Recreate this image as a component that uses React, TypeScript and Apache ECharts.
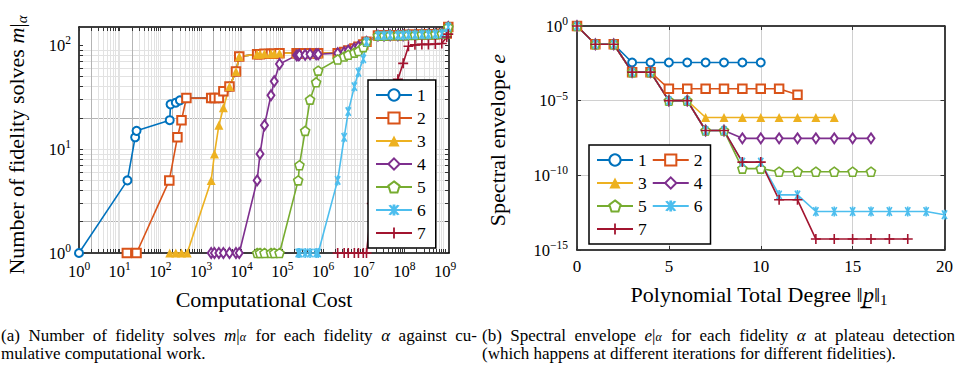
import React, { useEffect, useRef } from 'react';
import * as echarts from 'echarts';

const FONT = 'Liberation Serif';

const SERIES_NAMES = ['1', '2', '3', '4', '5', '6', '7'];
const COLORS = ['#0072BD', '#D95319', '#EDB120', '#7E2F8E', '#77AC30', '#4DBEEE', '#A2142F'];

// ---------- (a) number of fidelity solves vs cumulative cost ----------
const fid1Cost = [1, 15.5, 24, 26, 170, 178, 240, 302, 437];
const fid1Solves = [1, 5, 13, 15, 19, 27, 28, 29.5, 31];
const fid2Cost = [15, 26, 166, 263, 331, 437];
const fid2Solves = [1, 1, 5, 13, 19, 31];
const fid3Cost = [170, 240, 331, 457, 1780, 2140, 2750, 3550];
const fid3Solves = [1, 1, 1, 1, 5, 9, 17, 25];
const fid4Cost = [1780, 2140, 2750, 3550, 5010, 7240, 8710, 24000, 28200, 36300, 52500, 63100, 85100, 224000, 245000, 263000, 363000, 479000, 676000, 759000];
const fid4Solves = [1, 1, 1, 1, 1, 1, 1, 5, 9, 17, 33, 45, 66, 80, 80, 81, 81, 82, 82, 82];
const fid5Cost = [24000, 28200, 36300, 52500, 63100, 85100, 245000, 263000, 363000, 479000, 676000, 759000, 2.29e6, 3.31e6, 4.17e6, 5.89e6, 7.41e6, 9.77e6];
const fid5Solves = [1, 1, 1, 1, 1, 1, 5, 7, 15, 30, 44, 57, 73, 78, 81, 85, 88, 96];
const fid6Cost = [245000, 263000, 363000, 479000, 676000, 759000, 2.29e6, 3.31e6, 4.17e6, 5.89e6, 7.41e6, 9.77e6];
const fid6Solves = [1, 1, 1, 1, 1, 1, 5, 13, 23, 40, 55, 74];
const fid7Cost = [2.29e6, 3.31e6, 4.17e6, 5.89e6, 7.41e6, 9.77e6, 1.17e7, 1.58e7, 2.24e7, 3.16e7, 4.47e7, 6.92e7, 9.33e7, 1.26e8, 1.82e8, 2.69e8, 3.89e8, 5.75e8, 8.32e8, 1.1e9, 1.2e9];
const fid7Solves = [1, 1, 1, 1, 1, 1, 1, 3, 8, 15, 28, 47, 67, 98, 101, 102, 102, 103, 104, 120, 128];

// shared trajectory once the fidelities are all sampled together
const sharedACost = [1780, 2140, 2750, 3550];
const sharedASolves = [31, 31, 31, 36];
const sharedBCost = [5010, 7240, 8710, 24000, 28200, 36300, 52500, 63100, 85100];
const sharedBSolves = [40, 56, 78, 82, 82, 83, 83, 83, 84];
const sharedCCost = [224000, 245000, 263000, 363000, 479000, 676000, 759000];
const sharedCSolves = [84, 84, 84, 84, 84, 84, 84];
const sharedDCost = [2.29e6, 3.31e6, 4.17e6, 5.89e6, 7.41e6, 9.77e6];
const sharedDSolves = [84, 86, 89, 93, 97, 102];
const sharedECost = [1.17e7, 2.24e7, 3.16e7, 4.47e7, 6.92e7, 9.33e7, 1.26e8, 1.82e8, 2.69e8, 3.89e8, 5.75e8, 8.32e8, 1.1e9, 1.2e9];
const sharedESolves = [108, 124, 124, 125, 125, 125, 126, 126, 127, 127, 128, 129, 130, 150];

// ---------- (b) spectral envelope vs polynomial total degree ----------
const env1 = [1, 0.06, 0.06, 3.6e-3, 3.6e-3, 3.6e-3, 3.6e-3, 3.6e-3, 3.6e-3, 3.6e-3, 3.6e-3];
const env2 = [1, 0.06, 0.06, 8.1e-4, 8.1e-4, 6.3e-5, 6.3e-5, 6.3e-5, 6.3e-5, 6.3e-5, 6.3e-5, 6.3e-5, 2.5e-5];
const env3 = [1, 0.06, 0.06, 8.1e-4, 8.1e-4, 1e-5, 1e-5, 7.5e-7, 7.5e-7, 7.5e-7, 7.5e-7, 7.5e-7, 7.5e-7, 7.5e-7, 7.5e-7];
const env4 = [1, 0.06, 0.06, 8.1e-4, 8.1e-4, 1e-5, 1e-5, 1e-7, 1e-7, 3e-8, 3e-8, 3e-8, 3e-8, 3e-8, 3e-8, 3e-8, 3e-8];
const env5 = [1, 0.06, 0.06, 8.1e-4, 8.1e-4, 1e-5, 1e-5, 1e-7, 1e-7, 2.8e-10, 2.8e-10, 1.75e-10, 1.75e-10, 1.75e-10, 1.75e-10, 1.75e-10, 1.75e-10];
const env6 = [1, 0.06, 0.06, 8.1e-4, 8.1e-4, 1e-5, 1e-5, 1e-7, 1e-7, 7.7e-10, 7.7e-10, 4.9e-12, 4.9e-12, 3.8e-13, 3.8e-13, 3.8e-13, 3.8e-13, 3.8e-13, 3.8e-13, 3.8e-13, 2.3e-13];
const env7 = [1, 0.06, 0.06, 8.1e-4, 8.1e-4, 1e-5, 1e-5, 1e-7, 1e-7, 7.7e-10, 7.7e-10, 2.3e-12, 2.3e-12, 5.4e-15, 5.4e-15, 5.4e-15, 5.4e-15, 5.4e-15, 5.4e-15];

// tick labels
const costLabelValues = [1, 10, 100, 1e3, 1e4, 1e5, 1e6, 1e7, 1e8, 1e9];
const solvesLabelValues = [1, 10, 100];
const envLabelValues = [1e-15, 1e-10, 1e-5, 1];
const degreeTickValues = [0, 5, 10, 15, 20];

const CAPTION_A = [
  ['(a)', 'Number', 'of', 'fidelity', 'solves', 'm|α', 'for', 'each', 'fidelity', 'α', 'against', 'cu-'],
  ['mulative', 'computational', 'work.'],
];
const CAPTION_B = [
  ['(b)', 'Spectral', 'envelope', 'e|α', 'for', 'each', 'fidelity', 'α', 'at', 'plateau', 'detection'],
  ['(which', 'happens', 'at', 'different', 'iterations', 'for', 'different', 'fidelities).'],
];

// ---------- helpers ----------
function logGridValues(maxExp: number, maxValue: number): number[] {
  const out: number[] = [];
  for (let e = 0; e <= maxExp; e++) {
    for (let k = 1; k <= 9; k++) {
      const v = k * Math.pow(10, e);
      if (v <= maxValue) out.push(v);
    }
  }
  return out;
}

const pairs = (xs: number[], ys: number[]) => xs.map((x, i) => [x, ys[i]]);

const PENTAGON = 'path://M0,-10L9.51,-3.09L5.88,8.09L-5.88,8.09L-9.51,-3.09Z';
const ASTERISK =
  'path://M-0.8,-5L0.8,-5L0.8,5L-0.8,5Z M-3.193,-3.93L-1.807,-4.73L3.193,3.93L1.807,4.73Z M1.807,-4.73L3.193,-3.93L-1.807,4.73L-3.193,3.93Z';
const PLUS =
  'path://M-0.8,-5L0.8,-5L0.8,-0.8L5,-0.8L5,0.8L0.8,0.8L0.8,5L-0.8,5L-0.8,0.8L-5,0.8L-5,-0.8L-0.8,-0.8Z';

function markerStyle(i: number) {
  const c = COLORS[i];
  switch (i) {
    case 0:
      return { symbol: 'emptyCircle', symbolSize: 8, itemStyle: { color: c, borderColor: c, borderWidth: 1.6 } };
    case 1:
      return { symbol: 'emptyRect', symbolSize: 8.5, itemStyle: { color: c, borderColor: c, borderWidth: 1.6 } };
    case 2:
      return { symbol: 'triangle', symbolSize: 9, itemStyle: { color: c, borderWidth: 0 } };
    case 3:
      return { symbol: 'emptyDiamond', symbolSize: [7, 10], itemStyle: { color: c, borderColor: c, borderWidth: 1.5 } };
    case 4:
      return { symbol: PENTAGON, symbolSize: 9, itemStyle: { color: '#fff', borderColor: c, borderWidth: 1.6 } };
    case 5:
      return { symbol: ASTERISK, symbolSize: 10, symbolKeepAspect: true, itemStyle: { color: c, borderWidth: 0 } };
    default:
      return { symbol: PLUS, symbolSize: 10, itemStyle: { color: c, borderWidth: 0 } };
  }
}

const tickRich = {
  b: { fontFamily: FONT, fontSize: 16.5, color: '#000', lineHeight: 22 },
  s: { fontFamily: FONT, fontSize: 11.5, color: '#000', lineHeight: 12, verticalAlign: 'top' },
};
const powLabel = (v: number) => {
  const e = Math.round(Math.log10(v));
  return `{b|10}{s|${e < 0 ? '\u2212' + -e : e}}`;
};

const titleRich = {
  r: { fontFamily: FONT, fontSize: 22, fill: '#000', lineHeight: 26 },
  i: { fontFamily: FONT, fontSize: 22, fontStyle: 'italic', fill: '#000', lineHeight: 26 },
  sub: { fontFamily: FONT, fontSize: 15, fontStyle: 'italic', fill: '#000', lineHeight: 15, verticalAlign: 'bottom' },
  sub2: { fontFamily: FONT, fontSize: 15, fill: '#000', lineHeight: 15, verticalAlign: 'bottom' },
};

const CAP_SIZE = 17;
const CAP_SUB = 12;
const capRich = {
  i: { fontFamily: FONT, fontSize: CAP_SIZE, fontStyle: 'italic', fill: '#000', lineHeight: 16 },
  n: { fontFamily: FONT, fontSize: CAP_SIZE, fill: '#000', lineHeight: 16 },
  sub: { fontFamily: FONT, fontSize: CAP_SUB, fontStyle: 'italic', fill: '#000', verticalAlign: 'bottom', lineHeight: 9 },
};

let measureCtx: CanvasRenderingContext2D | null = null;
function measure(text: string, italic: boolean, size = CAP_SIZE): number {
  if (!measureCtx) measureCtx = document.createElement('canvas').getContext('2d');
  if (!measureCtx) return text.length * size * 0.45;
  measureCtx.font = `${italic ? 'italic ' : ''}${size}px Liberation Serif`;
  return measureCtx.measureText(text).width;
}

function mathWord(w: string): string | null {
  if (w === 'α') return '{i|α}';
  const m = /^([a-z])\|α$/.exec(w);
  if (m) return `{i|${m[1]}}{n||}{sub|α}`;
  return null;
}

function wordWidth(w: string): number {
  if (w === 'α') return measure('α', true);
  const m = /^([a-z])\|α$/.exec(w);
  if (m) return measure(m[1], true) + measure('|', false) + measure('α', true, CAP_SUB) + 1;
  return measure(w, false);
}

function captionElements(lines: string[][], x0: number, x1: number, y0: number, lineGap: number) {
  const els: any[] = [];
  lines.forEach((words, li) => {
    const y = y0 + li * lineGap;
    const justify = li < lines.length - 1;
    const widths = words.map(wordWidth);
    const total = widths.reduce((a, b) => a + b, 0);
    const gap = justify ? (x1 - x0 - total) / (words.length - 1) : measure(' ', false);
    let x = x0;
    words.forEach((w, wi) => {
      const rich = mathWord(w);
      els.push({
        type: 'text',
        x,
        y,
        silent: true,
        style: rich
          ? { text: rich, rich: capRich, fontFamily: FONT, fontSize: CAP_SIZE, fill: '#000', align: 'left', verticalAlign: 'middle' }
          : { text: w, fontFamily: FONT, fontSize: CAP_SIZE, fill: '#000', align: 'left', verticalAlign: 'middle' },
      });
      x += widths[wi] + gap;
    });
  });
  return els;
}

function buildOption() {
  const costTicks = logGridValues(9, 1.25e9);
  const solvesTicks = logGridValues(2, 150);
  const logGridColors = ['#b4b4b4', '#e2e2e2', '#e2e2e2', '#e2e2e2', '#e2e2e2', '#e2e2e2', '#e2e2e2', '#e2e2e2', '#e2e2e2'];

  const frameLine = { show: true, onZero: false, lineStyle: { color: '#000', width: 1.5 } };
  const tickStyle = { color: '#333', width: 1 };

  const leftData = [
    pairs([...fid1Cost, ...sharedACost, ...sharedBCost, ...sharedCCost, ...sharedDCost, ...sharedECost], [...fid1Solves, ...sharedASolves, ...sharedBSolves, ...sharedCSolves, ...sharedDSolves, ...sharedESolves]),
    pairs([...fid2Cost, ...sharedACost, ...sharedBCost, ...sharedCCost, ...sharedDCost, ...sharedECost], [...fid2Solves, ...sharedASolves, ...sharedBSolves, ...sharedCSolves, ...sharedDSolves, ...sharedESolves]),
    pairs([...fid3Cost, ...sharedBCost, ...sharedCCost, ...sharedDCost, ...sharedECost], [...fid3Solves, ...sharedBSolves, ...sharedCSolves, ...sharedDSolves, ...sharedESolves]),
    pairs([...fid4Cost, ...sharedDCost, ...sharedECost], [...fid4Solves, ...sharedDSolves, ...sharedESolves]),
    pairs([...fid5Cost, ...sharedECost], [...fid5Solves, ...sharedESolves]),
    pairs([...fid6Cost, ...sharedECost], [...fid6Solves, ...sharedESolves]),
    pairs(fid7Cost, fid7Solves),
  ];
  const rightData = [env1, env2, env3, env4, env5, env6, env7].map((arr) => arr.map((v, i) => [i, v]));

  const series: any[] = [];
  leftData.forEach((data, i) => {
    series.push({
      name: SERIES_NAMES[i],
      type: 'line',
      xAxisIndex: 0,
      yAxisIndex: 0,
      data,
      clip: false,
      z: 2,
      lineStyle: { color: COLORS[i], width: 1.6 },
      emphasis: { disabled: true },
      ...markerStyle(i),
    });
  });
  rightData.forEach((data, i) => {
    series.push({
      name: SERIES_NAMES[i],
      type: 'line',
      xAxisIndex: 2,
      yAxisIndex: 2,
      data,
      clip: false,
      z: 2,
      lineStyle: { color: COLORS[i], width: 1.6 },
      emphasis: { disabled: true },
      ...markerStyle(i),
    });
  });

  const legendCommon = {
    data: SERIES_NAMES,
    itemWidth: 36,
    itemHeight: 14,
    backgroundColor: '#fff',
    borderColor: '#000',
    borderWidth: 1.5,
    borderRadius: 0,
    selectedMode: false,
    textStyle: { fontFamily: FONT, fontSize: 17.5, color: '#000' },
    z: 10,
  };

  return {
    animation: false,
    backgroundColor: '#fff',
    textStyle: { fontFamily: FONT },
    grid: [
      { left: 79, top: 27, width: 370, height: 226 },
      { left: 577, top: 26, width: 370, height: 224 },
    ],
    xAxis: [
      {
        gridIndex: 0, type: 'log', logBase: 10, min: 1, max: 1.25e9, position: 'bottom',
        axisLine: frameLine,
        axisTick: { show: true, inside: true, length: 4, customValues: costTicks, lineStyle: tickStyle },
        axisLabel: { show: true, customValues: costLabelValues, formatter: powLabel, rich: tickRich, margin: 7 },
        splitLine: { show: true, showMinLine: false, showMaxLine: false, lineStyle: { color: logGridColors, width: 1 } },
      },
      {
        gridIndex: 0, type: 'log', logBase: 10, min: 1, max: 1.25e9, position: 'top',
        axisLine: frameLine,
        axisTick: { show: true, inside: true, length: 4, customValues: costTicks, lineStyle: tickStyle },
        axisLabel: { show: false },
        splitLine: { show: false },
      },
      {
        gridIndex: 1, type: 'value', min: 0, max: 20, interval: 5, position: 'bottom',
        axisLine: frameLine,
        axisTick: { show: true, inside: true, length: 4, customValues: degreeTickValues, lineStyle: tickStyle },
        axisLabel: { show: true, fontFamily: FONT, fontSize: 17, color: '#000', margin: 8 },
        splitLine: { show: true, showMinLine: false, showMaxLine: false, lineStyle: { color: '#d0d0d0', width: 1 } },
      },
      {
        gridIndex: 1, type: 'value', min: 0, max: 20, interval: 5, position: 'top',
        axisLine: frameLine,
        axisTick: { show: true, inside: true, length: 4, lineStyle: tickStyle },
        axisLabel: { show: false },
        splitLine: { show: false },
      },
    ],
    yAxis: [
      {
        gridIndex: 0, type: 'log', logBase: 10, min: 1, max: 150, position: 'left',
        axisLine: frameLine,
        axisTick: { show: true, inside: true, length: 4, customValues: solvesTicks, lineStyle: tickStyle },
        axisLabel: { show: true, customValues: solvesLabelValues, formatter: powLabel, rich: tickRich, margin: 8 },
        splitLine: { show: true, showMinLine: false, showMaxLine: false, lineStyle: { color: logGridColors, width: 1 } },
      },
      {
        gridIndex: 0, type: 'log', logBase: 10, min: 1, max: 150, position: 'right',
        axisLine: frameLine,
        axisTick: { show: true, inside: true, length: 4, customValues: solvesTicks, lineStyle: tickStyle },
        axisLabel: { show: false },
        splitLine: { show: false },
      },
      {
        gridIndex: 1, type: 'log', logBase: 10, min: 1e-15, max: 1, position: 'left',
        axisLine: frameLine,
        axisTick: { show: true, inside: true, length: 4, customValues: envLabelValues, lineStyle: tickStyle },
        axisLabel: { show: true, customValues: envLabelValues, formatter: powLabel, rich: tickRich, margin: 9 },
        splitLine: { show: true, showMinLine: false, showMaxLine: false, lineStyle: { color: '#d0d0d0', width: 1 } },
      },
      {
        gridIndex: 1, type: 'log', logBase: 10, min: 1e-15, max: 1, position: 'right',
        axisLine: frameLine,
        axisTick: { show: true, inside: true, length: 4, customValues: envLabelValues, lineStyle: tickStyle },
        axisLabel: { show: false },
        splitLine: { show: false },
      },
    ],
    legend: [
      { ...legendCommon, orient: 'vertical', left: 368, top: 80, padding: [6, 10, 6, 7], itemGap: 5 },
      { ...legendCommon, orient: 'horizontal', left: 589, top: 145, width: 110, padding: [6, 8, 6, 7], itemGap: 5 },
    ],
    graphic: {
      elements: [
        { type: 'text', x: 16, y: 145, rotation: Math.PI / 2, silent: true,
          style: { text: '{r|Number of fidelity solves }{i|m}{r||}{sub|α}', rich: titleRich, fontFamily: FONT, fontSize: 22, fill: '#000', align: 'center', verticalAlign: 'middle' } },
        { type: 'text', x: 264, y: 299, silent: true,
          style: { text: 'Computational Cost', fontFamily: FONT, fontSize: 22, fill: '#000', align: 'center', verticalAlign: 'middle' } },
        { type: 'text', x: 497, y: 140, rotation: Math.PI / 2, silent: true,
          style: { text: '{r|Spectral envelope }{i|e}', rich: titleRich, fontFamily: FONT, fontSize: 22, fill: '#000', align: 'center', verticalAlign: 'middle' } },
        { type: 'text', x: 759, y: 294, silent: true,
          style: { text: '{r|Polynomial Total Degree \u2016}{i|p\u0332}{r|\u2016}{sub2|1}', rich: titleRich, fontFamily: FONT, fontSize: 22, fill: '#000', align: 'center', verticalAlign: 'middle' } },
        ...captionElements(CAPTION_A, 1, 477, 335, 18),
        ...captionElements(CAPTION_B, 482, 955, 335, 18),
      ],
    },
    series,
  };
}

export default function App() {
  const ref = useRef<HTMLDivElement>(null);
  useEffect(() => {
    if (!ref.current) return;
    const chart = echarts.init(ref.current, undefined, { renderer: 'svg' });
    chart.setOption(buildOption() as any);
    return () => chart.dispose();
  }, []);
  return (
    <div
      ref={ref}
      style={{ position: 'fixed', left: 0, top: 0, width: 956, height: 365, background: '#fff' }}
    />
  );
}
